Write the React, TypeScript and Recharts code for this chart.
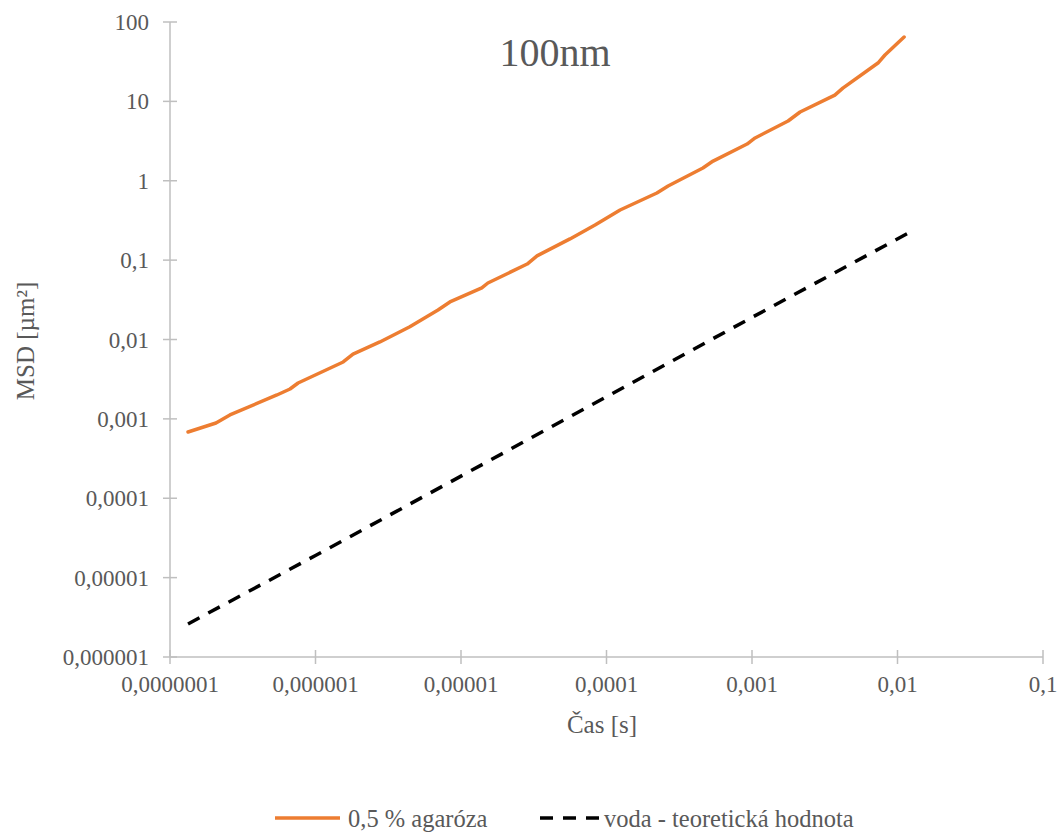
import React from "react"
import { LineChart, Line, XAxis, YAxis, Customized } from "recharts"

// čas [s] a MSD [µm²]
const agarozaTime = [
  1.33e-7, 2.07e-7, 2.58e-7, 5.43e-7, 6.68e-7, 7.59e-7, 1.55e-6, 1.81e-6, 2.77e-6, 4.45e-6,
  6.95e-6, 8.39e-6, 1.39e-5, 1.53e-5, 2.85e-5, 3.33e-5, 5.61e-5, 8.34e-5, 1.24e-4, 2.22e-4,
  2.65e-4, 4.6e-4, 5.4e-4, 9.25e-4, 1.05e-3, 1.77e-3, 2.14e-3, 3.71e-3, 4.21e-3, 7.34e-3,
  8.2e-3, 1.11e-2,
]
const agarozaMsd = [
  6.84e-4, 8.87e-4, 1.12e-3, 2.0e-3, 2.38e-3, 2.83e-3, 5.21e-3, 6.56e-3, 9.31e-3, 1.45e-2,
  2.35e-2, 2.97e-2, 4.46e-2, 5.15e-2, 8.93e-2, 0.113, 0.185, 0.277, 0.428, 0.701,
  0.859, 1.45, 1.77, 2.9, 3.46, 5.66, 7.35, 12.0, 14.7, 30.4,
  38.4, 64.7,
]

const vodaTime = [1.33e-7, 1e-6, 1e-5, 1e-4, 1e-3, 1.26e-2]
const vodaMsd = [2.61e-6, 1.9e-5, 1.9e-4, 1.9e-3, 1.9e-2, 0.233]

const xTicks = [1e-7, 1e-6, 1e-5, 1e-4, 1e-3, 1e-2, 1e-1]
const xTickLabels = ["0,0000001", "0,000001", "0,00001", "0,0001", "0,001", "0,01", "0,1"]
const yTicks = [1e-6, 1e-5, 1e-4, 1e-3, 1e-2, 1e-1, 1, 10, 100]
const yTickLabels = ["0,000001", "0,00001", "0,0001", "0,001", "0,01", "0,1", "1", "10", "100"]

const agarozaData = agarozaTime.map((t, i) => ({ t, msd: agarozaMsd[i] }))
const vodaData = vodaTime.map((t, i) => ({ t, msd: vodaMsd[i] }))

const FONT = "'Liberation Serif', 'Times New Roman', serif"
const TEXT = "#595959"
const AXIS = "#bfbfbf"
const ORANGE = "#ED7D31"

function labelFor(value: number, ticks: number[], labels: string[]) {
  const i = ticks.findIndex((v) => Math.abs(Math.log10(v) - Math.log10(value)) < 1e-6)
  return i >= 0 ? labels[i] : ""
}

function XTick({ x, y, payload }: any) {
  return (
    <g>
      <line x1={x} x2={x} y1={y - 7} y2={y + 7} stroke={AXIS} strokeWidth={1.5} />
      <text x={x} y={y + 35} textAnchor="middle" fill={TEXT} fontSize={23} fontFamily={FONT}>
        {labelFor(payload.value, xTicks, xTickLabels)}
      </text>
    </g>
  )
}

function YTick({ x, y, payload }: any) {
  return (
    <g>
      <line x1={x - 7} x2={x + 7} y1={y} y2={y} stroke={AXIS} strokeWidth={1.5} />
      <text x={x - 21} y={y} dy="0.35em" textAnchor="end" fill={TEXT} fontSize={23} fontFamily={FONT}>
        {labelFor(payload.value, yTicks, yTickLabels)}
      </text>
    </g>
  )
}

function Decorations() {
  return (
    <g fontFamily={FONT} fill={TEXT}>
      <text x={555} y={66} textAnchor="middle" fontSize={40}>
        100nm
      </text>
      <text x={602} y={733} textAnchor="middle" fontSize={25}>
        Čas [s]
      </text>
      <text x={25} y={341} textAnchor="middle" dy="0.35em" fontSize={25} transform="rotate(-90 25 341)">
        MSD [µm²]
      </text>
      <line x1={275} x2={340} y1={818} y2={818} stroke={ORANGE} strokeWidth={3.5} />
      <text x={348} y={818} dy="0.35em" fontSize={24.5}>
        0,5 % agaróza
      </text>
      <line x1={540} x2={600} y1={818} y2={818} stroke="#000" strokeWidth={3.5} strokeDasharray="13 10" />
      <text x={604} y={818} dy="0.35em" fontSize={24.5}>
        voda - teoretická hodnota
      </text>
    </g>
  )
}

export default function App() {
  return (
    <div style={{ position: "absolute", left: 0, top: 0, width: 1060, height: 832 }}>
      <LineChart width={1060} height={832} margin={{ top: 22, right: 17, left: 0, bottom: 0 }}>
        <XAxis
          type="number"
          dataKey="t"
          scale="log"
          domain={[1e-7, 0.1]}
          ticks={xTicks}
          allowDataOverflow
          height={175}
          tickSize={0}
          tickMargin={0}
          tickLine={false}
          axisLine={{ stroke: AXIS, strokeWidth: 1.5 }}
          tick={<XTick />}
          interval={0}
        />
        <YAxis
          type="number"
          dataKey="msd"
          scale="log"
          domain={[1e-6, 100]}
          ticks={yTicks}
          allowDataOverflow
          width={170}
          tickSize={0}
          tickMargin={0}
          tickLine={false}
          axisLine={{ stroke: AXIS, strokeWidth: 1.5 }}
          tick={<YTick />}
          interval={0}
        />
        <Line
          data={vodaData}
          dataKey="msd"
          name="voda - teoretická hodnota"
          stroke="#000"
          strokeWidth={3.5}
          strokeDasharray="13 10"
          dot={false}
          type="linear"
          isAnimationActive={false}
        />
        <Line
          data={agarozaData}
          dataKey="msd"
          name="0,5 % agaróza"
          stroke={ORANGE}
          strokeWidth={3.5}
          strokeLinejoin="round"
          strokeLinecap="round"
          dot={false}
          type="linear"
          isAnimationActive={false}
        />
        <Customized component={<Decorations />} />
      </LineChart>
    </div>
  )
}
